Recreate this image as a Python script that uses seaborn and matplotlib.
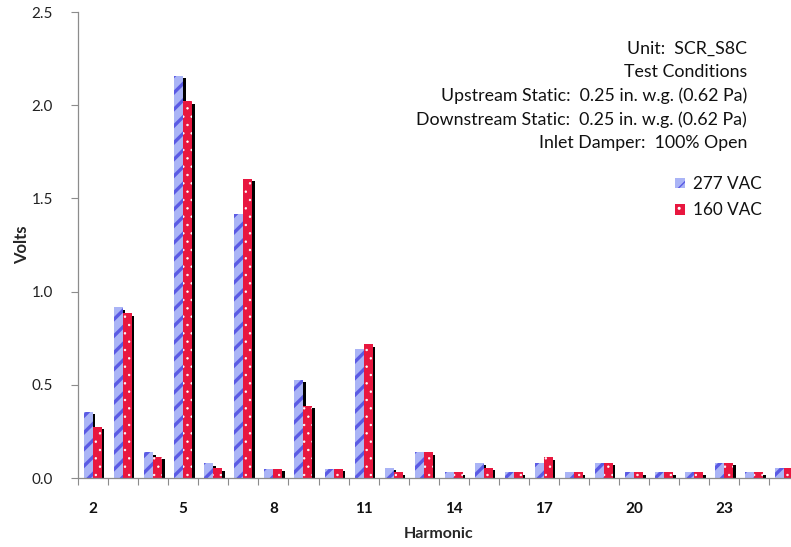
import matplotlib
matplotlib.use("Agg")
import matplotlib.pyplot as plt
import matplotlib.patheffects as pe
from matplotlib.patches import Patch
import numpy as np
import pandas as pd
import seaborn as sns

# Harmonic order and measured voltage for each supply voltage
harmonics = list(range(2, 26))
volts_277 = [0.356, 0.915, 0.138, 2.157, 0.079, 1.415, 0.050, 0.526, 0.050, 0.690,
             0.055, 0.138, 0.030, 0.080, 0.030, 0.080, 0.030, 0.080, 0.030, 0.030,
             0.030, 0.080, 0.030, 0.055]
volts_160 = [0.275, 0.883, 0.114, 2.020, 0.052, 1.605, 0.050, 0.386, 0.050, 0.717,
             0.030, 0.138, 0.030, 0.053, 0.030, 0.110, 0.030, 0.080, 0.030, 0.030,
             0.030, 0.080, 0.030, 0.055]
series = ["277 VAC", "160 VAC"]
shown_ticks = [2, 5, 8, 11, 14, 17, 20, 23]
y_ticks = [0.0, 0.5, 1.0, 1.5, 2.0, 2.5]
notes = ["Unit:  SCR_S8C", "Test Conditions",
         "Upstream Static:  0.25 in. w.g. (0.62 Pa)",
         "Downstream Static:  0.25 in. w.g. (0.62 Pa)",
         "Inlet Damper:  100% Open"]

df = pd.DataFrame({
    "Harmonic": [str(h) for h in harmonics] * 2,
    "Volts": volts_277 + volts_160,
    "Supply": [series[0]] * len(harmonics) + [series[1]] * len(harmonics),
})

sns.set_theme(style="white")
plt.rcParams["font.family"] = ["Lato", "DejaVu Sans"]

face = {"277 VAC": "#aab4f6", "160 VAC": "#e8173f"}
hatch_col = {"277 VAC": "#5a5ae4", "160 VAC": "#ffffff"}
hatches = {"277 VAC": "//", "160 VAC": ".."}
hatch_lw = {"277 VAC": 2.4, "160 VAC": 0.5}


class BarShadow(pe.AbstractPathEffect):
    """Solid black drop shadow drawn without the bar's hatch."""

    def draw_path(self, renderer, gc, tpath, affine, rgbFace=None):
        gc0 = renderer.new_gc()
        gc0.copy_properties(gc)
        gc0.set_hatch(None)
        gc0.set_linewidth(0)
        renderer.draw_path(gc0, tpath, affine + self._offset_transform(renderer),
                           (0, 0, 0))
        gc0.restore()


def style_hatch(patch, name):
    patch.set_hatch(hatches[name])
    patch.set_edgecolor(hatch_col[name])
    patch.set_linewidth(0)
    if hasattr(patch, "set_hatch_linewidth"):
        patch.set_hatch_linewidth(hatch_lw[name])
    else:
        patch._hatch_linewidth = hatch_lw[name]


ax_w = (799.5 - 78) / 791
fig = plt.figure(figsize=(7.91, 5.47), dpi=100)
ax = fig.add_axes([78 / 791, 69 / 547, ax_w, (478 - 12) / 547])

sns.barplot(data=df, x="Harmonic", y="Volts", hue="Supply", hue_order=series,
            palette=face, width=0.6, gap=0, saturation=1, legend=False, ax=ax)

for cont, name in zip(ax.containers, series):
    for bar in cont:
        style_hatch(bar, name)
        bar.set_path_effects([BarShadow(offset=(1.7, -1.7)), pe.Normal()])

ax.set_xlim(-0.5, len(harmonics) - 0.5)
ax.set_ylim(0, 2.5)
ax.set_yticks(y_ticks)
ax.set_yticklabels([f"{v:.1f}" for v in y_ticks])

pos = [harmonics.index(h) for h in shown_ticks]
ax.set_xticks(pos)
ax.set_xticklabels([str(h) for h in shown_ticks], fontweight="bold")
ax.set_xticks(np.arange(len(harmonics) + 1) - 0.5, minor=True)
ax.tick_params(axis="x", which="major", length=0, pad=17, labelsize=11,
               labelcolor="#111111")
ax.tick_params(axis="x", which="minor", length=5, width=0.8, color="#8c8c8c",
               direction="out", bottom=True)
ax.tick_params(axis="y", which="major", length=5, width=0.8, color="#8c8c8c",
               direction="out", left=True, pad=13, labelsize=11,
               labelcolor="#222222")

for side in ["top", "right"]:
    ax.spines[side].set_visible(False)
for side in ["left", "bottom"]:
    ax.spines[side].set_color("#8c8c8c")
    ax.spines[side].set_linewidth(0.9)

ax.set_xlabel("Harmonic", fontweight="bold", fontsize=11.5, labelpad=8)
ax.set_ylabel("Volts", fontweight="bold", fontsize=12)
ax.yaxis.set_label_coords((30 - 78) / (799.5 - 78), 0.5)

for i, line in enumerate(notes):
    fig.text(747 / 791, 1 - (48.5 + i * 23.6) / 547, line, ha="right",
             va="center", fontsize=12.8, color="#111111")

handles = []
for s in series:
    h = Patch(facecolor=face[s], linewidth=0)
    style_hatch(h, s)
    handles.append(h)
leg = ax.legend(handles, series, loc="upper left",
                bbox_to_anchor=(675 / 791, 1 - 176 / 547),
                bbox_transform=fig.transFigure, frameon=False, fontsize=12.3,
                handlelength=0.6, handleheight=0.6, handletextpad=0.45,
                labelspacing=0.6, borderpad=0, borderaxespad=0)
for t in leg.get_texts():
    t.set_color("#111111")

fig.savefig("out.png", dpi=100)
